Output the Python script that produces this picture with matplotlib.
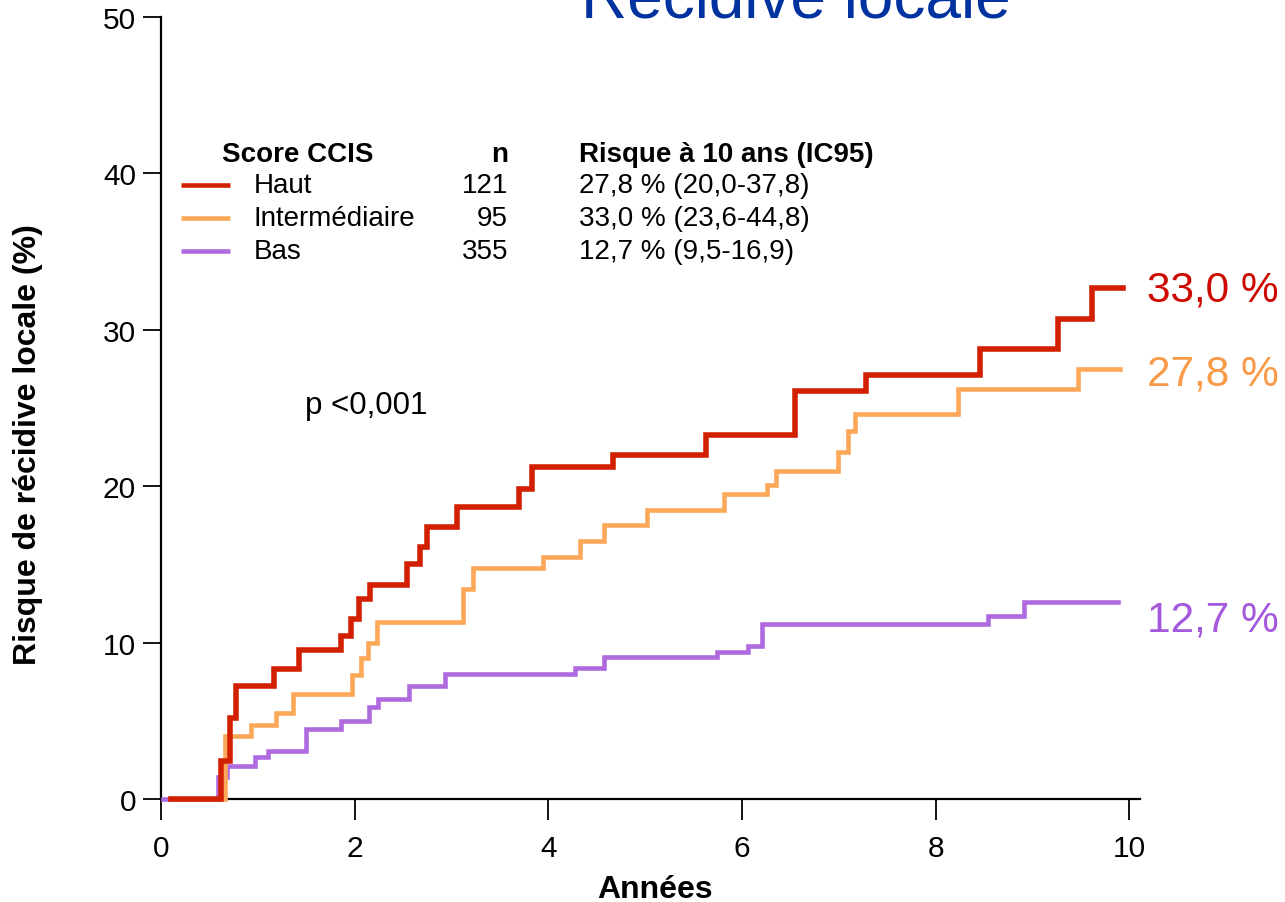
import matplotlib
matplotlib.use("Agg")
import matplotlib.pyplot as plt
from matplotlib.lines import Line2D

plt.rcParams['font.family'] = ['Liberation Sans', 'DejaVu Sans']

# ---- data ----
haut_t = [0.1, 0.62, 0.71, 0.77, 1.17, 1.43, 1.86, 1.96, 2.04, 2.16, 2.54, 2.67, 2.75,
          3.06, 3.70, 3.83, 4.67, 5.63, 6.55, 7.28, 8.46, 9.26, 9.61, 9.93]
haut_v = [0, 2.4, 5.2, 7.2, 8.3, 9.5, 10.4, 11.5, 12.8, 13.7, 15.0, 16.1, 17.4,
          18.7, 19.8, 21.2, 22.0, 23.3, 26.1, 27.1, 28.8, 30.7, 32.7, 32.7]

inter_t = [0.1, 0.66, 0.93, 1.19, 1.36, 1.97, 2.07, 2.14, 2.23, 3.12, 3.22, 3.95, 4.33,
           4.57, 5.02, 5.81, 6.26, 6.35, 6.99, 7.09, 7.17, 8.23, 9.47, 9.90]
inter_v = [0, 4.0, 4.7, 5.5, 6.7, 7.9, 9.0, 10.0, 11.3, 13.4, 14.8, 15.5, 16.5,
           17.5, 18.5, 19.5, 20.1, 21.0, 22.2, 23.5, 24.6, 26.2, 27.5, 27.5]

bas_t = [0.02, 0.59, 0.68, 0.97, 1.10, 1.50, 1.86, 2.15, 2.24, 2.56, 2.93, 4.28, 4.57,
         5.74, 6.06, 6.21, 8.54, 8.91, 9.88]
bas_v = [0, 1.4, 2.1, 2.7, 3.1, 4.5, 5.0, 5.9, 6.4, 7.2, 8.0, 8.4, 9.1,
         9.4, 9.8, 11.2, 11.7, 12.6, 12.6]

groups = ['Haut', 'Intermédiaire', 'Bas']
n_values = ['121', '95', '355']
risks = ['27,8 % (20,0-37,8)', '33,0 % (23,6-44,8)', '12,7 % (9,5-16,9)']
end_labels = ['33,0 %', '27,8 %', '12,7 %']
end_label_y = [32.6, 27.2, 11.5]

x_ticks = [0, 2, 4, 6, 8, 10]
y_ticks = [0, 10, 20, 30, 40, 50]

line_colors = ['#D21F00', '#FBA958', '#B06AE0']
label_colors = ['#CC0A00', '#F99A48', '#A458DC']
line_widths = [4.0, 3.3, 3.3]

W, H = 1285, 903
fig = plt.figure(figsize=(W / 100, H / 100), dpi=100)
ax = fig.add_axes([161 / W, 1 - 800 / H, (1140 - 161) / W, (800 - 18) / H])

series = [(haut_t, haut_v), (inter_t, inter_v), (bas_t, bas_v)]
order = [2, 1, 0]
for i in order:
    t, v = series[i]
    ax.step(t, v, where='post', color=line_colors[i], lw=line_widths[i],
            solid_joinstyle='miter', zorder=3 + (2 - i), clip_on=False)

ax.set_xlim(0, 10.11)
ax.set_ylim(0, 50)
ax.set_xticks(x_ticks)
ax.set_yticks(y_ticks)
for s in ['top', 'right']:
    ax.spines[s].set_visible(False)
for s in ['left', 'bottom']:
    ax.spines[s].set_linewidth(1.6)
ax.tick_params(axis='y', length=13, width=1.3, labelsize=21.5, pad=5)
ax.tick_params(axis='x', length=15, width=1.3, labelsize=21.5, pad=10)

ax.set_xlabel('Années', fontsize=23, fontweight='bold', labelpad=9)
ax.xaxis.label.set_x(0.5046)
ax.set_ylabel('Risque de récidive locale (%)', fontsize=23, fontweight='bold')
ax.yaxis.set_label_coords(-0.121, 0.454)

def fx(px):
    return px / W

def fy(py):
    return 1 - py / H

# title (cropped at top, as in the reference)
fig.text(fx(796), fy(18), 'Récidive locale', ha='center', va='baseline',
         fontsize=46, color='#0033A0')

# legend table
fs = 20
fig.text(fx(222), fy(155), 'Score CCIS', ha='left', va='center', fontsize=fs, fontweight='bold')
fig.text(fx(508), fy(155), 'n', ha='right', va='center', fontsize=fs, fontweight='bold')
fig.text(fx(579), fy(155), 'Risque à 10 ans (IC95)', ha='left', va='center', fontsize=fs, fontweight='bold')
row_y = [186, 219, 252]
for i in range(3):
    y = row_y[i]
    fig.add_artist(Line2D([fx(181), fx(230)], [fy(y), fy(y)], color=line_colors[i],
                          lw=3.3, solid_capstyle='butt'))
    fig.text(fx(254), fy(y), groups[i], ha='left', va='center', fontsize=fs)
    fig.text(fx(508), fy(y), n_values[i], ha='right', va='center', fontsize=fs)
    fig.text(fx(579), fy(y), risks[i], ha='left', va='center', fontsize=fs)

# p-value
fig.text(fx(305), fy(406), 'p <0,001', ha='left', va='center', fontsize=22.5)

# end labels
for i in range(3):
    ax.text(10.18, end_label_y[i], end_labels[i], ha='left', va='center',
            fontsize=30.5, color=label_colors[i], clip_on=False)

fig.savefig('out.png', dpi=100)
